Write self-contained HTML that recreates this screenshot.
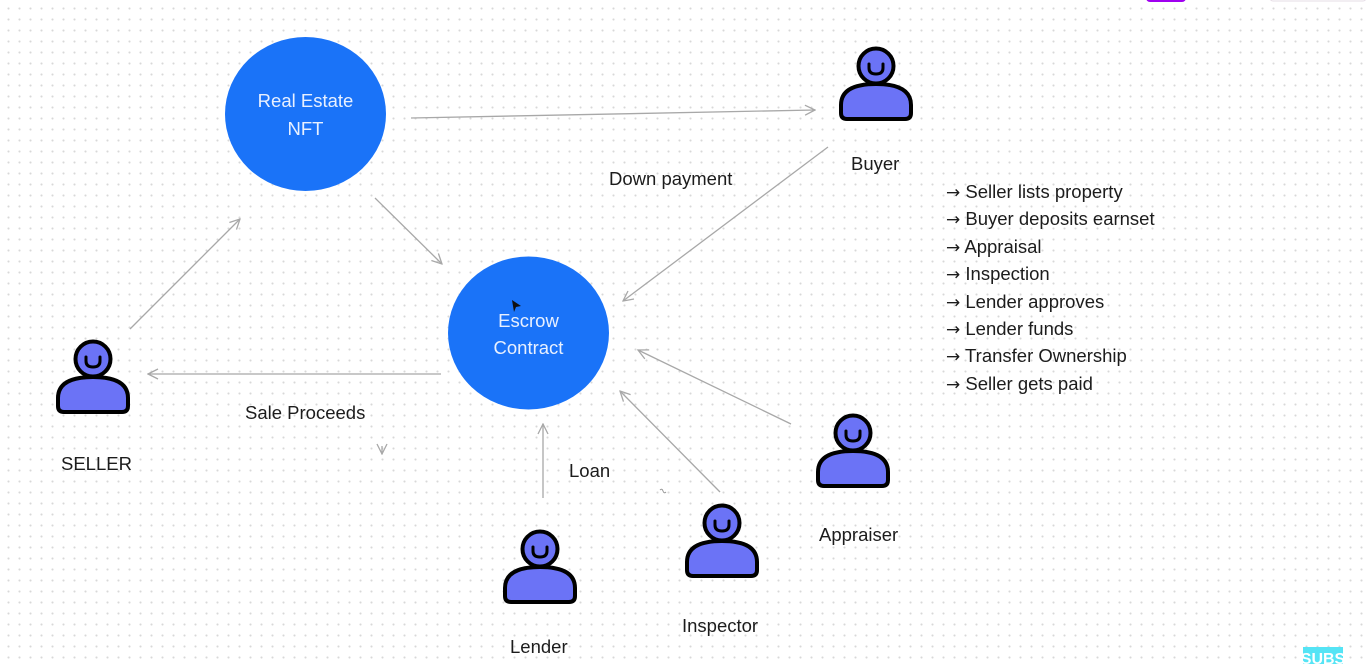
<!DOCTYPE html>
<html><head><meta charset="utf-8"><style>
html,body{margin:0;padding:0}
body{width:1366px;height:664px;overflow:hidden;background-color:#fff;background-image:radial-gradient(circle,#d8d8d8 0.9px,transparent 1.2px);background-size:11px 11px;background-position:3px 3px;font-family:"Liberation Sans",sans-serif;position:relative}
svg{position:absolute;left:0;top:0}
.t{position:absolute;font-size:18.5px;color:#1c1c1c;white-space:nowrap}
.list{position:absolute;left:946px;top:178px;font-size:18.5px;color:#1c1c1c;white-space:nowrap}
.list div{height:27.4px;line-height:27.4px;overflow:visible}
.ar{font-family:"DejaVu Sans",sans-serif;font-size:17px;line-height:1}
</style></head><body>
<svg width="1366" height="664" viewBox="0 0 1366 664">
<defs>
<marker id="a" viewBox="0 0 12 12" refX="11" refY="6" markerWidth="12" markerHeight="12" markerUnits="userSpaceOnUse" orient="auto">
<path d="M1,1 L11,6 L1,11" fill="none" stroke="#a8a8a8" stroke-width="1.3"/></marker>
<g id="p">
<path d="M-35,66 L-35,58 Q-35,37 0,37 Q35,37 35,58 L35,66 Q35,72 29,72 L-29,72 Q-35,72 -35,66 Z" fill="#6b73f6" stroke="#000" stroke-width="4" stroke-linejoin="round"/>
<circle cx="0" cy="19" r="17.5" fill="#6b73f6" stroke="#000" stroke-width="4"/>
<path d="M-7,17 L-7,21 Q-7,27 0,27 Q7,27 7,21 L7,17" fill="none" stroke="#000" stroke-width="3" stroke-linecap="round"/>
</g>
</defs>
<rect x="1146" y="-6" width="40" height="8" rx="4" fill="#a000f0"/>
<rect x="1270" y="-6" width="96" height="7" rx="3" fill="#fff" stroke="#e6dde6"/>
<g stroke="#a8a8a8" stroke-width="1.3" fill="none" marker-end="url(#a)">
<line x1="411" y1="118" x2="815" y2="110"/>
<line x1="375" y1="198" x2="442" y2="264"/>
<line x1="130" y1="329" x2="240" y2="219"/>
<line x1="828" y1="147" x2="623" y2="301"/>
<line x1="441" y1="374" x2="148" y2="374"/>
<line x1="543" y1="498" x2="543" y2="424"/>
<line x1="720" y1="492" x2="620" y2="391"/>
<line x1="791" y1="424" x2="638" y2="350"/>
<line x1="382" y1="446" x2="382" y2="454"/>
</g>
<path d="M660,490 q2,-2 3,1 q1,3 3,1" stroke="#999" fill="none" stroke-width="1"/>
<ellipse cx="305.5" cy="114" rx="80.5" ry="77" fill="#1a73f8"/>
<ellipse cx="528.5" cy="333" rx="80.5" ry="76.5" fill="#1a73f8"/>
<text x="305.5" y="107" font-family="Liberation Sans" font-size="18.5" fill="#e8f0ff" text-anchor="middle">Real Estate</text>
<text x="305.5" y="135" font-family="Liberation Sans" font-size="18.5" fill="#e8f0ff" text-anchor="middle">NFT</text>
<text x="528.5" y="327" font-family="Liberation Sans" font-size="18.5" fill="#e8f0ff" text-anchor="middle">Escrow</text>
<text x="528.5" y="354" font-family="Liberation Sans" font-size="18.5" fill="#e8f0ff" text-anchor="middle">Contract</text>
<path d="M512,300 L521,306 L516,307 L514,312 Z" fill="#111"/>
<use href="#p" x="876" y="47"/>
<use href="#p" x="93" y="340"/>
<use href="#p" x="853" y="414"/>
<use href="#p" x="722" y="504"/>
<use href="#p" x="540" y="530"/>
<rect x="1303" y="647" width="40" height="20" fill="#55e4f5"/>
<text x="1323" y="664" font-family="Liberation Sans" font-size="16" font-weight="bold" fill="#fff" text-anchor="middle">SUBS</text>
</svg>
<div class="t" style="left:851px;top:153px">Buyer</div>
<div class="t" style="left:609px;top:168px">Down payment</div>
<div class="t" style="left:61px;top:453px">SELLER</div>
<div class="t" style="left:245px;top:402px">Sale Proceeds</div>
<div class="t" style="left:569px;top:460px">Loan</div>
<div class="t" style="left:819px;top:524px">Appraiser</div>
<div class="t" style="left:682px;top:615px">Inspector</div>
<div class="t" style="left:510px;top:636px">Lender</div>
<div class="list"><div><span class="ar">→</span> Seller lists property</div><div><span class="ar">→</span> Buyer deposits earnset</div><div><span class="ar">→</span> Appraisal</div><div><span class="ar">→</span> Inspection</div><div><span class="ar">→</span> Lender approves</div><div><span class="ar">→</span> Lender funds</div><div><span class="ar">→</span> Transfer Ownership</div><div><span class="ar">→</span> Seller gets paid</div></div>
</body></html>
